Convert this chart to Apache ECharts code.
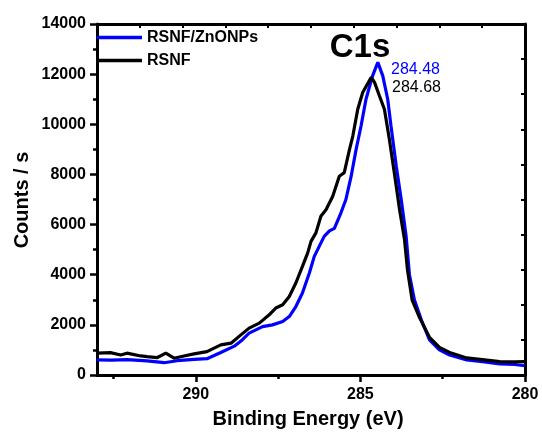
<!DOCTYPE html>
<html>
<head>
<meta charset="utf-8">
<script src="https://cdn.jsdelivr.net/npm/echarts@6/dist/echarts.min.js"></script>
<style>
html,body{margin:0;padding:0;background:#fff;}
#c{width:542px;height:433px;}
</style>
</head>
<body>
<div id="c"></div>
<script>
// Binding energy (eV) and counts for RSNF/ZnONPs (blue)
var blueEnergy = [293.00,292.55,292.09,291.48,290.96,290.57,290.05,289.66,289.24,288.83,288.59,288.38,287.97,287.67,287.36,287.16,286.96,286.76,286.55,286.40,286.25,286.10,285.94,285.79,285.59,285.44,285.28,285.13,284.98,284.83,284.63,284.47,284.32,284.17,284.07,283.91,283.76,283.61,283.51,283.36,283.15,282.90,282.60,282.29,281.77,281.23,280.77,280.31,280.01];
var blueCounts = [600,590,610,560,490,570,620,650,900,1150,1400,1670,1930,2000,2130,2330,2730,3270,4070,4730,5130,5530,5750,5850,6470,7000,7930,9000,9930,11000,11930,12470,11930,11000,9930,8330,7000,5530,4000,3000,2200,1400,1000,800,600,520,440,420,370];
// Binding energy (eV) and counts for RSNF (black)
var blackEnergy = [293.00,292.59,292.28,292.09,291.67,291.48,291.18,290.91,290.66,290.36,290.05,289.66,289.24,288.93,288.63,288.38,288.07,287.77,287.57,287.36,287.16,286.96,286.76,286.60,286.50,286.35,286.20,286.04,285.84,285.64,285.49,285.33,285.23,285.08,284.93,284.67,284.57,284.42,284.27,284.12,283.97,283.81,283.66,283.57,283.43,283.20,282.90,282.60,282.29,281.77,281.23,280.77,280.31,280.01];
var blackCounts = [870,890,800,870,760,730,690,870,670,760,840,930,1200,1270,1600,1870,2070,2400,2670,2800,3130,3670,4330,4870,5330,5670,6330,6600,7130,7930,8070,9000,9530,10600,11270,11870,11670,11130,10600,9400,8070,6600,5400,4200,3000,2280,1500,1100,900,680,600,530,520,530];
var seriesNames = ['RSNF/ZnONPs', 'RSNF'];
var xMajorTicks = [280, 285, 290];
var xMinorTicks = [282.5, 287.5, 292.5];
var peakLabels = ['284.48', '284.68'];

function pairs(xs, ys) { return xs.map(function (x, i) { return [x, ys[i]]; }); }

var FONT = '"Liberation Sans", Arial, sans-serif';
var chart = echarts.init(document.getElementById('c'), null, {renderer: 'canvas'});
chart.setOption({
  animation: false,
  backgroundColor: '#fff',
  grid: {left: 97, right: 17, top: 24, bottom: 58, containLabel: false},
  legend: {
    orient: 'vertical', left: 97, top: 28, itemWidth: 45, itemHeight: 3.5, itemGap: 4,
    icon: 'rect', padding: 0,
    data: seriesNames,
    textStyle: {fontFamily: FONT, fontWeight: 'bold', fontSize: 16, color: '#000', lineHeight: 19}
  },
  xAxis: [
    {type: 'value', inverse: true, min: 280, max: 293, position: 'bottom',
     axisLine: {lineStyle: {color: '#000', width: 3}},
     axisTick: {customValues: xMajorTicks, length: 7, lineStyle: {width: 2.5, color: '#000'}},
     axisLabel: {customValues: xMajorTicks, margin: 12, fontFamily: FONT, fontWeight: 'bold', fontSize: 16, color: '#000'},
     splitLine: {show: false}},
    {type: 'value', inverse: true, min: 280, max: 293, position: 'bottom',
     axisLine: {show: false},
     axisTick: {customValues: xMinorTicks, length: 4, lineStyle: {width: 2.5, color: '#000'}},
     axisLabel: {show: false}, splitLine: {show: false}},
    {type: 'value', min: 0, max: 10, interval: 1, position: 'top',
     axisLine: {lineStyle: {color: '#000', width: 3}},
     axisTick: {inside: true, length: 4, lineStyle: {width: 2, color: '#000'}},
     axisLabel: {show: false}, splitLine: {show: false}}
  ],
  yAxis: [
    {type: 'value', min: 0, max: 14000, interval: 2000, position: 'left',
     axisLine: {show: true, lineStyle: {color: '#000', width: 3}},
     axisTick: {show: true, length: 7, lineStyle: {width: 2.5, color: '#000'}},
     minorTick: {show: true, splitNumber: 2, length: 4, lineStyle: {width: 2.5, color: '#000'}},
     axisLabel: {margin: 11, fontFamily: FONT, fontWeight: 'bold', fontSize: 16, color: '#000',
                 formatter: function (v) { return String(v); }},
     splitLine: {show: false}},
    {type: 'value', min: 0, max: 10, interval: 1, position: 'right',
     axisLine: {show: true, lineStyle: {color: '#000', width: 3}},
     axisTick: {show: true, inside: true, length: 4, lineStyle: {width: 2, color: '#000'}},
     axisLabel: {show: false}, splitLine: {show: false}}
  ],
  series: [
    {name: seriesNames[0], type: 'line', xAxisIndex: 0, yAxisIndex: 0, symbol: 'none',
     data: pairs(blueEnergy, blueCounts), color: '#0000ff',
     lineStyle: {color: '#0000ff', width: 3.2}, z: 2},
    {name: seriesNames[1], type: 'line', xAxisIndex: 0, yAxisIndex: 0, symbol: 'none',
     data: pairs(blackEnergy, blackCounts), color: '#000',
     lineStyle: {color: '#000', width: 3.2}, z: 3}
  ],
  graphic: [
    {type: 'text', style: {text: 'C1s', x: 360, y: 48, textAlign: 'center', textVerticalAlign: 'middle', font: 'bold 33px ' + FONT, fill: '#000'}},
    {type: 'text', style: {text: peakLabels[0], x: 391, y: 70, textAlign: 'left', textVerticalAlign: 'middle', font: '16px ' + FONT, fill: '#0000ff'}},
    {type: 'text', style: {text: peakLabels[1], x: 392, y: 88, textAlign: 'left', textVerticalAlign: 'middle', font: '16px ' + FONT, fill: '#000'}},
    {type: 'text', style: {text: 'Binding Energy (eV)', x: 308, y: 419, textAlign: 'center', textVerticalAlign: 'middle', font: 'bold 20px ' + FONT, fill: '#000'}},
    {type: 'text', x: 22, y: 200, rotation: Math.PI / 2, style: {text: 'Counts / s', x: 0, y: 0, textAlign: 'center', textVerticalAlign: 'middle', font: 'bold 20px ' + FONT, fill: '#000'}}
  ]
});
</script>
</body>
</html>
